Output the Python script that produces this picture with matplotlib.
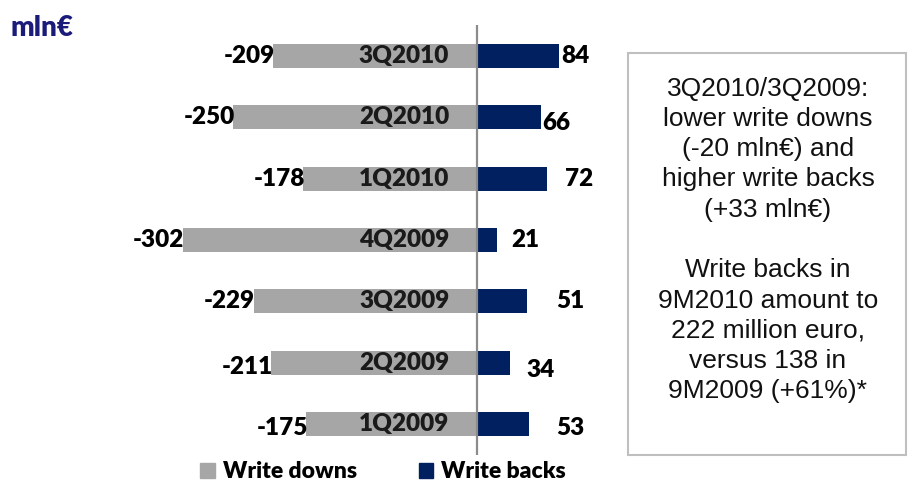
import matplotlib
matplotlib.use("Agg")
import matplotlib.pyplot as plt
from matplotlib.patches import Patch, Rectangle

quarters = ["1Q2009", "2Q2009", "3Q2009", "4Q2009", "1Q2010", "2Q2010", "3Q2010"]
write_downs = [-175, -211, -229, -302, -178, -250, -209]
write_backs = [53, 34, 51, 21, 72, 66, 84]

# label gaps (points) after the blue bars, as placed in the source slide
back_pad = [20, 12, 21, 10, 13, 1, 2]
back_dy = [-3, -5, 0, 0, 0, -4, 0]
down_dy = [-3, -3, 0, 0, 0, 0, 0]

GRAY = "#a6a6a6"
NAVY = "#002060"
W, H = 910, 488

plt.rcParams["font.family"] = ["Lato", "DejaVu Sans"]

fig = plt.figure(figsize=(W / 100, H / 100), dpi=100)
ax = fig.add_axes([100 / W, (H - 455) / H, 520 / W, 430 / H])

y = range(len(quarters))
ax.barh(y, write_downs, height=0.39, color=GRAY, zorder=2)
ax.barh(y, write_backs, height=0.39, color=NAVY, zorder=2)
ax.axvline(0, color="#8c8c8c", lw=1.6, zorder=3)
ax.set_xlim(-386.7, 146.7)
ax.set_ylim(-0.5, len(quarters) - 0.5)
ax.axis("off")

for i, (q, d, b) in enumerate(zip(quarters, write_downs, write_backs)):
    ax.annotate(q, (0, i), xytext=(-20, 0), textcoords="offset points",
                ha="right", va="center", fontsize=17.5, fontweight="heavy",
                color="#1a1a1a", zorder=4)
    ax.annotate(f"{d}", (d, i), xytext=(1, down_dy[i]), textcoords="offset points",
                ha="right", va="center", fontsize=17.5, fontweight="heavy",
                color="black")
    ax.annotate(f"{b}", (b, i), xytext=(back_pad[i], back_dy[i]),
                textcoords="offset points", ha="left", va="center",
                fontsize=17.5, fontweight="heavy", color="black")

fig.text(10 / W, (H - 28) / H, "mln€", fontsize=20, fontweight="heavy",
         color="#1b1b7a", ha="left", va="center")

handles = [Patch(color=GRAY, label="Write downs"),
           Patch(color=NAVY, label="Write backs")]
fig.legend(handles=handles, loc="center", bbox_to_anchor=(383 / W, (H - 472) / H),
           ncol=2, frameon=False, prop={"size": 16.5, "weight": "heavy"},
           handlelength=0.62, handleheight=0.62, handletextpad=0.35,
           columnspacing=2.7)

fig.patches.append(Rectangle((628 / W, (H - 455) / H), 278 / W, 402 / H,
                             transform=fig.transFigure, fill=False,
                             edgecolor="#bfbfbf", lw=1.5))
note = ("3Q2010/3Q2009:\nlower write downs\n(-20 mln€) and\n"
        "higher write backs\n(+33 mln€)\n\nWrite backs in\n9M2010 amount to\n"
        "222 million euro,\nversus 138 in\n9M2009 (+61%)*")
fig.text(768 / W, (H - 240) / H, note, family=["Liberation Sans", "DejaVu Sans"],
         fontsize=19, ha="center", va="center", linespacing=1.33, color="#111111")

fig.savefig("out.png", dpi=100)
